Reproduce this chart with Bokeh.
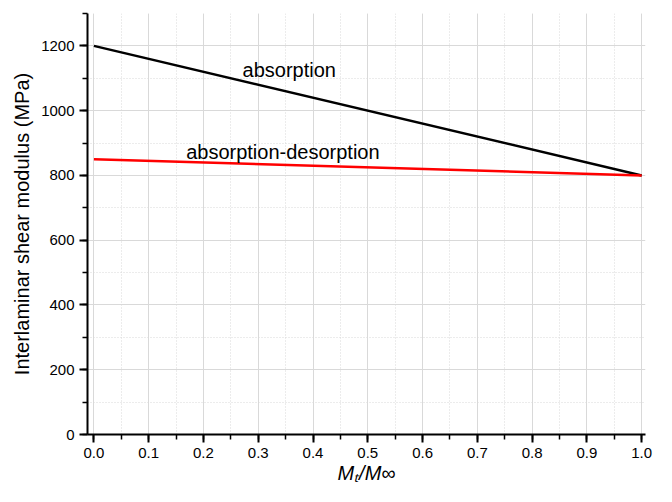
from bokeh.plotting import figure
from bokeh.models import Range1d, SingleIntervalTicker, PrintfTickFormatter, Label, ColumnDataSource
from bokeh.embed import file_html
from bokeh.resources import INLINE

# data
x_vals = [0.0, 1.0]
absorption = [1200, 800]
abs_des = [850, 800]
series_labels = ["absorption", "absorption-desorption"]
label_pos_x = [0.3566, 0.345]
label_pos_y = [1126, 872]
x_title = "M\u209c/M\u221e"
y_title = "Interlaminar shear modulus (MPa)"

FONT = "Liberation Sans"

p = figure(width=656, height=486, output_backend="svg", toolbar_location=None,
           x_range=Range1d(-0.0117, 1.007), y_range=Range1d(0, 1300),
           min_border_left=87, min_border_right=11, min_border_top=13, min_border_bottom=50)
p.outline_line_color = None
p.background_fill_color = "white"

for ax in (p.xaxis[0], p.yaxis[0]):
    ax.axis_line_color = "black"
    ax.axis_line_width = 2
    ax.major_tick_line_color = "black"
    ax.major_tick_line_width = 2
    ax.minor_tick_line_color = "black"
    ax.minor_tick_line_width = 1.5
    ax.major_tick_out = 8
    ax.major_tick_in = 0
    ax.minor_tick_out = 5
    ax.minor_tick_in = 0
    ax.major_label_text_font = FONT
    ax.major_label_text_font_size = "15px"
    ax.major_label_text_color = "black"
    ax.major_label_standoff = 5
    ax.axis_label_text_font = FONT
    ax.axis_label_text_color = "black"

p.xaxis.ticker = SingleIntervalTicker(interval=0.1, num_minor_ticks=2)
p.yaxis.ticker = SingleIntervalTicker(interval=200, num_minor_ticks=2)
p.xaxis.formatter = PrintfTickFormatter(format="%.1f")

p.yaxis.axis_label = y_title
p.yaxis.axis_label_text_font_size = "20px"
p.yaxis.axis_label_text_font_style = "normal"
p.yaxis.axis_label_standoff = 5

p.xaxis.axis_label = x_title
p.xaxis.axis_label_text_font_size = "20px"
p.xaxis.axis_label_text_font_style = "italic"
p.xaxis.axis_label_standoff = 1

for g in (p.xgrid[0], p.ygrid[0]):
    g.grid_line_color = "#d9d9d9"
    g.grid_line_width = 1
    g.minor_grid_line_color = "#d9d9d9"
    g.minor_grid_line_dash = "1 2"
    g.minor_grid_line_width = 1

src = ColumnDataSource(dict(x=x_vals, a=absorption, b=abs_des))
p.line("x", "a", source=src, line_color="black", line_width=2.5)
p.line("x", "b", source=src, line_color="#ff0000", line_width=2.5)

for t, lx, ly in zip(series_labels, label_pos_x, label_pos_y):
    p.add_layout(Label(x=lx, y=ly, text=t, text_align="center", text_baseline="alphabetic",
                       text_font=FONT, text_font_size="20px", text_color="black"))

open("out.html", "w").write(file_html(p, INLINE))
